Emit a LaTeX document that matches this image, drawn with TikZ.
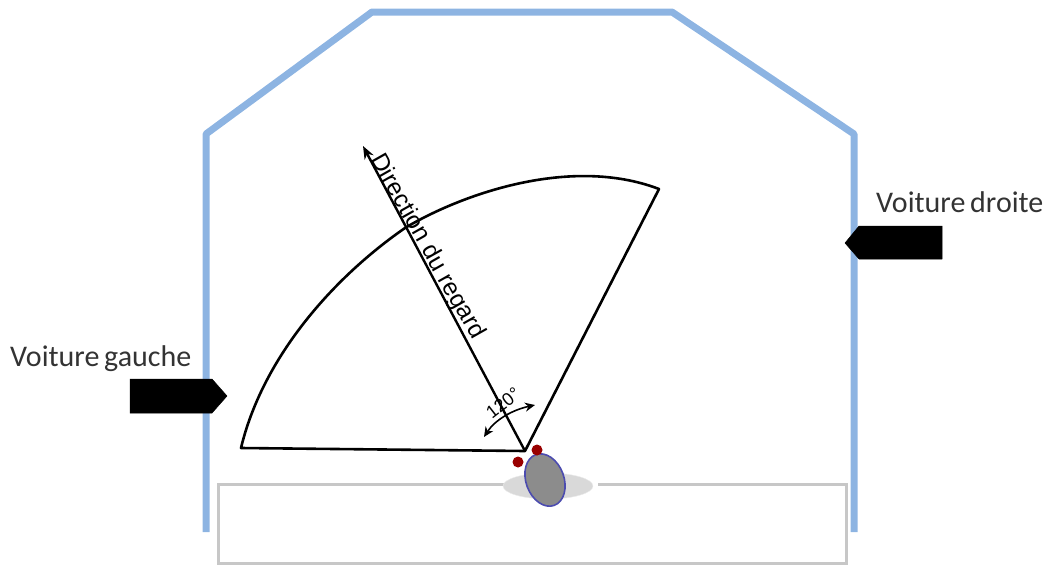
\documentclass[tikz,border=0pt]{standalone}
\usepackage{fontspec}
\setmainfont{Carlito}
\newfontfamily\arialfont{Liberation Sans}
\usetikzlibrary{arrows.meta,calc,shapes.geometric}
\definecolor{wallblue}{RGB}{141,180,226}
\tikzset{
  wall/.style={draw=wallblue,line width=7pt,line join=round},
  carbox/.style={fill=black,draw=black,line width=.5pt,line join=round},
  carlabel/.style={font=\fontsize{30}{34}\selectfont,text=black!80,inner sep=0pt,anchor=base west},
  fieldline/.style={draw=black,line width=2.6pt,line join=round},
  gazeline/.style={draw=black,line width=2.4pt},
  desk/.style={draw=black!22,line width=3pt},
  dot/.style={circle,fill=red!60!black,draw=none,minimum size=11pt,inner sep=0pt},
}
\begin{document}
\begin{tikzpicture}[x=1pt,y=-1pt]
\useasboundingbox (0,0) rectangle (1051,565);
\path[wall] (206,532) -- (206,134) -- (372,12) -- (672,12) -- (854,134) -- (854,532);
% desk
\coordinate (d1) at (508,484);
\coordinate (d2) at (598,484);
\path[desk] (d1) -- (218,484) -- (218,563) -- (846,563) -- (846,484) -- (d2);
% cars
\path[carbox] (130,379) -- (212,379) -- (227,396) -- (212,413) -- (130,413) -- cycle;
\path[carbox] (942,226) -- (942,259) -- (859,259) -- (845,243) -- (859,226) -- cycle;
\node[carlabel] (lg) at (10,366) {Voiture\hspace{-2pt} gauche};
\node[carlabel] (ld) at (876,212) {Voiture\hspace{-2pt} droite};
% field of view
\coordinate (apex) at (525,451);
\coordinate (fl) at (241,448);
\coordinate (fr) at (659,189);
\coordinate (ft) at (405,228);
\path[fieldline] (fl) -- (apex) -- (fr) .. controls (570,155) and (460,195) .. (ft) .. controls (330,280) and (262,360) .. (fl) -- cycle;
% gaze
\coordinate (gz) at (363,146);
\draw[gazeline,-{Stealth[length=13pt,width=10pt]}] (apex) -- (gz);
\node[font=\arialfont\fontsize{24.5}{28}\selectfont,rotate=-60.5,inner sep=0pt] (dl) at (427,247) {Direction du regard};
% angle
\coordinate (a1) at (484,437);
\coordinate (a2) at (535,405);
\draw[line width=1.6pt,{Stealth[length=10pt,width=9pt]}-{Stealth[length=10pt,width=9pt]}] (a1) .. controls (495,420) and (512,410) .. (a2);
\node[font=\arialfont\fontsize{18}{20}\selectfont,rotate=38,inner sep=0pt] (al) at (503,403) {120°};
% person
\node[ellipse,fill=black!15,draw=black!8,minimum width=90pt,minimum height=26pt,inner sep=0pt] (body) at (548,486) {};
\node[ellipse,fill=black!45,draw=blue!55!black!70,line width=1.6pt,minimum width=38pt,minimum height=54pt,inner sep=0pt,rotate=20] (head) at (545,480) {};
\node[dot] (e1) at (537,450) {};
\node[dot] (e2) at (518,462) {};
\end{tikzpicture}
\end{document}
